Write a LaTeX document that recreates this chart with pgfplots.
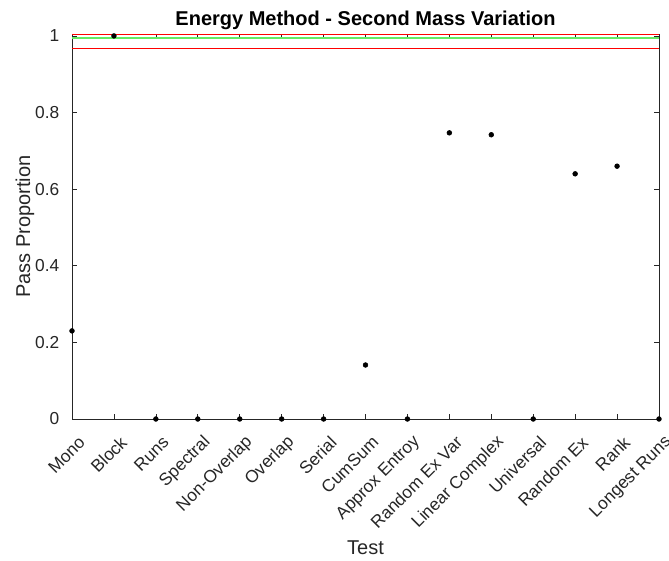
\documentclass[border=0pt]{standalone}
\usepackage{pgfplots}
\pgfplotsset{compat=1.18}
\usepackage{fontspec}
\setmainfont{Liberation Sans}
\usetikzlibrary{calc}
\definecolor{axgray}{gray}{0.15}
\definecolor{bandgreen}{RGB}{100,235,100}

\begin{document}
\begin{tikzpicture}[x=1pt,y=1pt]
\begin{axis}[
  name=ax,
  scale only axis,
  width=440.25pt, height=288.75pt,
  xmin=0, xmax=14,
  ymin=0, ymax=1.005,
  clip=false,
  axis line style={axgray, line width=0.5pt},
  every tick/.style={axgray, line width=0.5pt},
  tick align=inside,
  major tick length=4pt,
  xtick={0,...,14},
  xticklabels={Mono,Block,Runs,Spectral,Non-Overlap,Overlap,Serial,CumSum,Approx Entroy,Random Ex Var,Linear Complex,Universal,Random Ex,Rank,Longest Runs},
  xticklabel style={xshift=7.5pt, yshift=-15.25pt, rotate=45, anchor=east, inner sep=0pt, font=\fontsize{13}{15}\selectfont, text=axgray},
  ytick={0,0.2,0.4,0.6,0.8,1},
  yticklabels={0,0.2,0.4,0.6,0.8,1},
  yticklabel style={font=\fontsize{13}{15}\selectfont, text=axgray, xshift=-6pt},
  xlabel={Test},
  ylabel={Pass Proportion},
  xlabel style={font=\fontsize{15}{17}\selectfont, text=axgray, at={(axis description cs:0.5,0)}, anchor=north, yshift=-88pt},
  ylabel style={font=\fontsize{15}{17}\selectfont, text=axgray, at={(axis description cs:-0.080,0.5)}, anchor=center, rotate=0},
  title={\textbf{Energy Method - Second Mass Variation}},
  title style={font=\fontsize{15}{17}\selectfont, at={(axis description cs:0.5,1)}, anchor=center, yshift=4pt},
]
% acceptance band
\addplot[red, line width=0.75pt, forget plot] coordinates {(0,1.004) (14,1.004)};
\addplot[bandgreen, line width=1.6pt, forget plot] coordinates {(0,0.995) (14,0.995)};
\addplot[red, line width=0.75pt, forget plot] coordinates {(0,0.966) (14,0.966)};
% pass proportions per test
\addplot[only marks, mark=*, mark size=1.8pt, black] coordinates {
  (0,0.23) (1,1.0) (2,0) (3,0) (4,0) (5,0) (6,0) (7,0.141) (8,0)
  (9,0.747) (10,0.742) (11,0) (12,0.64) (13,0.66) (14,0)
};
\end{axis}
\pgfresetboundingbox
\path[use as bounding box] ($(ax.south west)+(-54pt,-105.75pt)$) rectangle ($(ax.north east)+(7.5pt,25.5pt)$);
\end{tikzpicture}
\end{document}
